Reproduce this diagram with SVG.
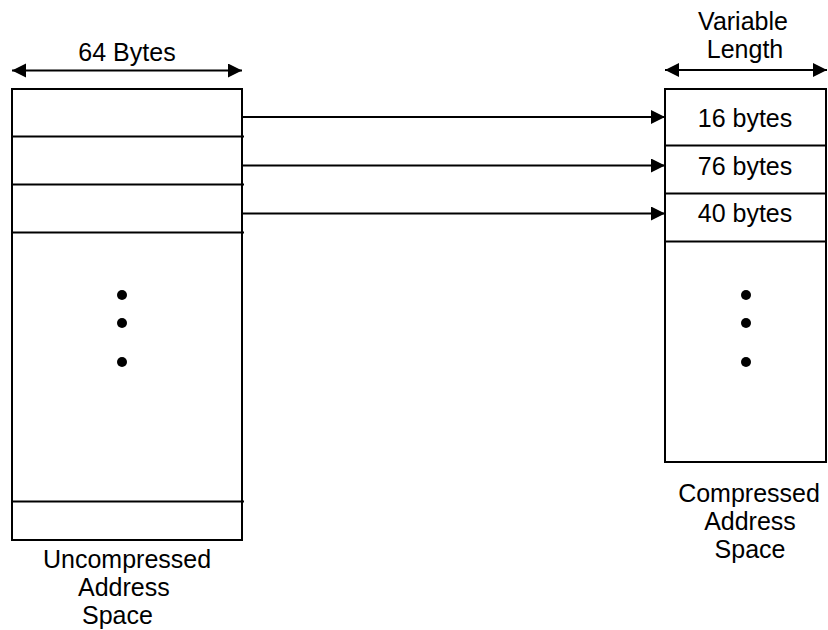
<svg xmlns="http://www.w3.org/2000/svg" width="828" height="630" viewBox="0 0 828 630">
<style>
.box{fill:#fff;stroke:#000;stroke-width:2}
.ln{stroke:#000;stroke-width:2;fill:none}
.t{font-family:"Liberation Sans",Arial,sans-serif;font-size:25px;fill:#000}
.c{text-anchor:middle}
.dot{fill:#000}
</style>
<defs>
<marker id="ah" markerUnits="userSpaceOnUse" markerWidth="15" markerHeight="15" refX="14" refY="7" orient="auto-start-reverse">
<path d="M0,0 L14,7 L0,14 z" fill="#000"/>
</marker>
</defs>
<g id="uncompressed">
<rect class="box" x="12" y="89" width="230" height="451"/>
<line class="ln" x1="12" y1="136.5" x2="244" y2="136.5"/>
<line class="ln" x1="12" y1="184.5" x2="244" y2="184.5"/>
<line class="ln" x1="12" y1="232.5" x2="244" y2="232.5"/>
<line class="ln" x1="12" y1="501.5" x2="244" y2="501.5"/>
<circle class="dot" cx="122" cy="295" r="5"/>
<circle class="dot" cx="122" cy="323" r="5"/>
<circle class="dot" cx="122" cy="362" r="5"/>
<text class="t" x="43" y="568">Uncompressed</text>
<text class="t" x="78" y="596">Address</text>
<text class="t" x="82" y="624">Space</text>
</g>
<g id="width64">
<line class="ln" x1="12" y1="70.5" x2="242" y2="70.5" marker-start="url(#ah)" marker-end="url(#ah)"/>
<text class="t c" x="127" y="61">64 Bytes</text>
</g>
<g id="compressed">
<rect class="box" x="665" y="89" width="161" height="373"/>
<line class="ln" x1="665" y1="145.5" x2="826" y2="145.5"/>
<line class="ln" x1="665" y1="193.5" x2="826" y2="193.5"/>
<line class="ln" x1="665" y1="241.5" x2="826" y2="241.5"/>
<text class="t c" x="745" y="127">16 bytes</text>
<text class="t c" x="745" y="175">76 bytes</text>
<text class="t c" x="745" y="222">40 bytes</text>
<circle class="dot" cx="746" cy="295" r="5"/>
<circle class="dot" cx="746" cy="323" r="5"/>
<circle class="dot" cx="746" cy="362" r="5"/>
<text class="t c" x="749" y="502">Compressed</text>
<text class="t c" x="750" y="530">Address</text>
<text class="t c" x="750" y="558">Space</text>
</g>
<g id="widthvar">
<line class="ln" x1="665" y1="70" x2="827" y2="70" marker-start="url(#ah)" marker-end="url(#ah)"/>
<text class="t c" x="743" y="30">Variable</text>
<text class="t c" x="745" y="58">Length</text>
</g>
<g id="connectors">
<line class="ln" x1="242" y1="117" x2="665" y2="117" marker-end="url(#ah)"/>
<line class="ln" x1="242" y1="165.5" x2="665" y2="165.5" marker-end="url(#ah)"/>
<line class="ln" x1="242" y1="213.5" x2="665" y2="213.5" marker-end="url(#ah)"/>
</g>
</svg>
